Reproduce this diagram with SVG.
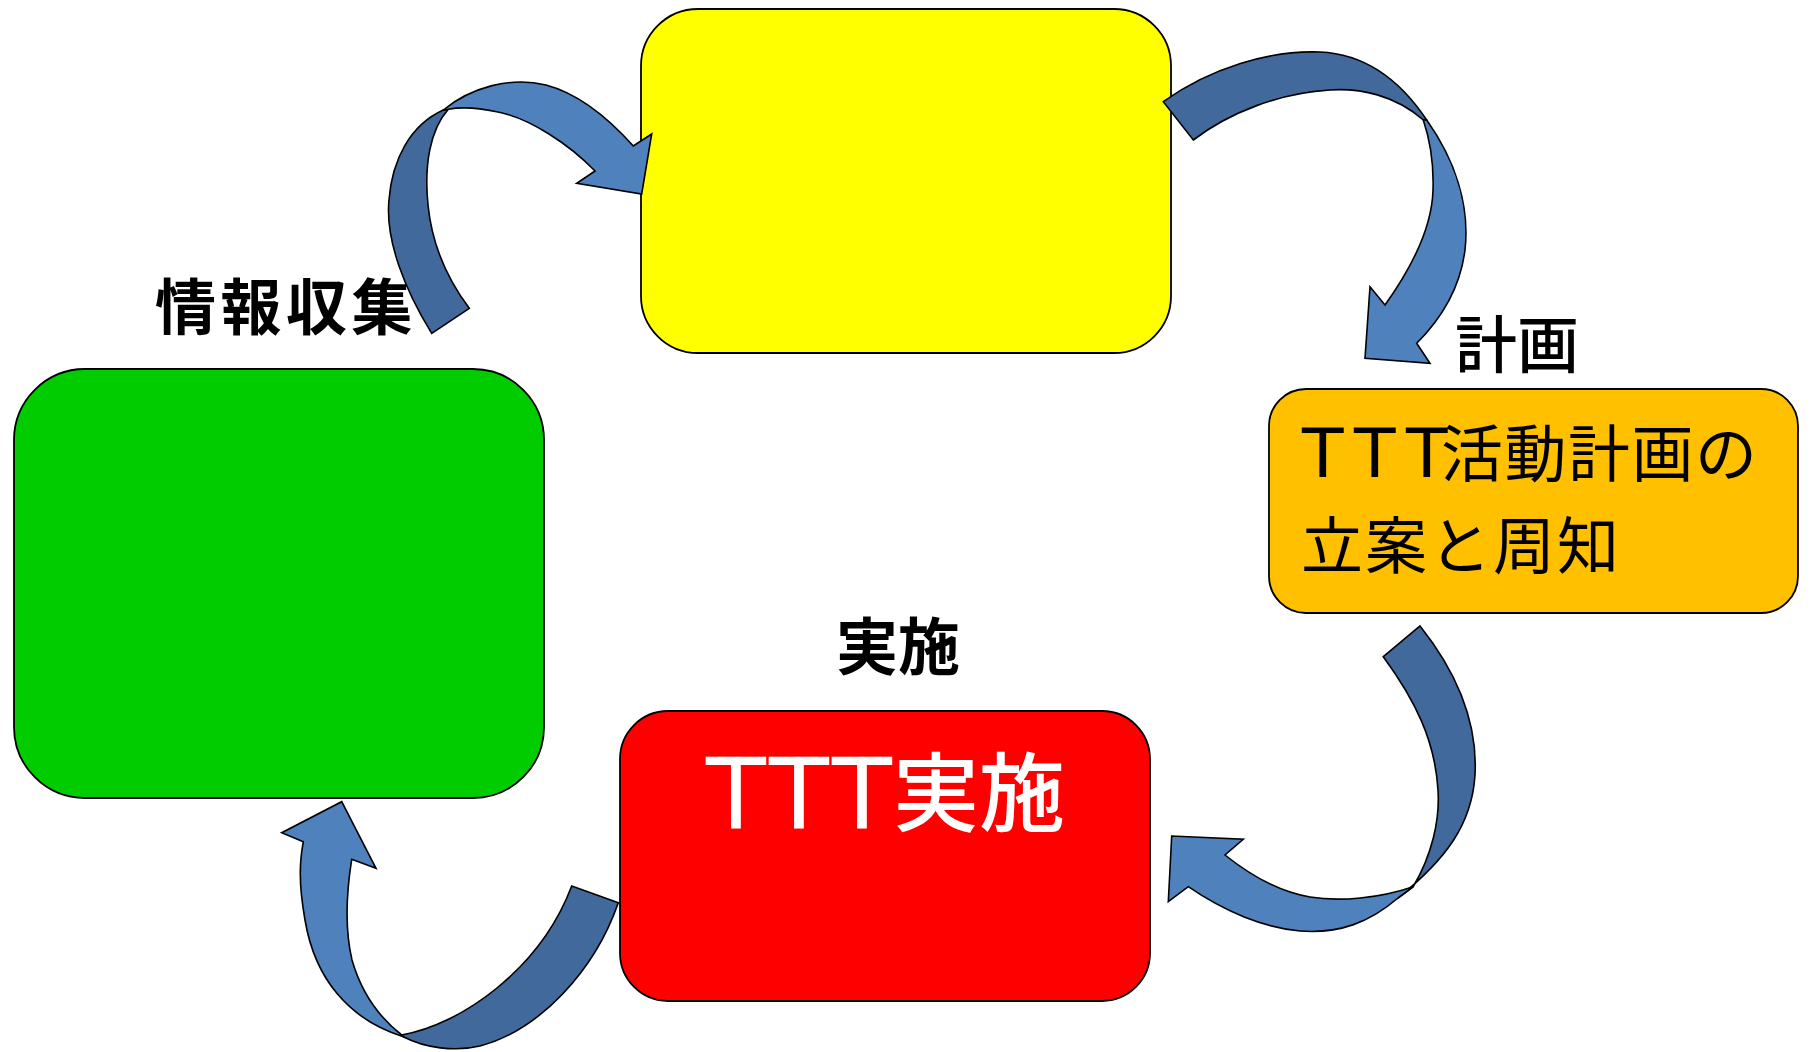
<svg xmlns="http://www.w3.org/2000/svg" width="1810" height="1052" viewBox="0 0 1810 1052">
<style>
.box{stroke:#000;stroke-width:1.8}
.lbl{font-family:"Noto Sans CJK JP","Noto Sans CJK SC",sans-serif;fill:#000}
.lat{font-family:"DejaVu Sans","Noto Sans CJK JP",sans-serif}
.cjk{font-family:"Noto Sans CJK JP","Noto Sans CJK SC",sans-serif}
.dark{fill:#41699B;stroke:#000;stroke-width:1.6;stroke-linejoin:miter}
.light{fill:#4F81BD;stroke:#000;stroke-width:1.6;stroke-linejoin:miter}
</style>
<rect width="1810" height="1052" fill="#fff"/>
<g id="node-yellow">
<rect class="box" x="641" y="9" width="530" height="344" rx="57" fill="#FFFF00"/>
</g>
<g id="node-green">
<rect class="box" x="14" y="369" width="530" height="429" rx="71" fill="#00CC00"/>
<text class="lbl" x="155" y="330" font-size="61" font-weight="700" letter-spacing="4.5">情報収集</text>
</g>
<g id="node-orange">
<rect class="box" x="1269" y="389" width="529" height="224" rx="37" fill="#FFC000"/>
<text class="lbl" x="1517" y="368" font-size="62" font-weight="500" text-anchor="middle">計画</text>
<text class="lbl" y="477"><tspan class="lat" font-size="68" x="1302 1354 1406">TTT</tspan><tspan class="cjk" font-size="62" x="1441" letter-spacing="1.5">活動計画の</tspan></text>
<text class="lbl" x="1301" y="569" font-size="62" letter-spacing="2">立案と周知</text>
</g>
<g id="node-red">
<rect class="box" x="620" y="711" width="530" height="290" rx="48" fill="#FF0000"/>
<text class="lbl" x="898" y="670" font-size="62" font-weight="700" text-anchor="middle">実施</text>
<text class="lbl" fill="#fff" style="fill:#fff"><tspan class="lat" font-size="98" y="828" x="706 769 832">TTT</tspan><tspan class="cjk" font-size="86" font-weight="500" y="825" x="893">実施</tspan></text>
</g>
<g id="connectors">
<path class="dark" d="M431.7,333.3 C405,290 385,240 389,200 C392,160 410,125 443.3,110 L448.3,109.3 C430,130 424,165 428,205 C432,245 448,280 469.3,308.3 Z"/>
<path class="light" d="M443.3,110 C470,88 510,76 546,85 C580,94 610,120 633.3,146 L651.7,134 L641.7,194 L576.7,183.3 L595,171 C570,145 530,118 496.7,111.7 C475,107 460,107 448.3,109.3 Z"/>
<path class="dark" d="M1163.3,101.7 C1210,68 1270,50 1320,52 C1365,54 1400,80 1426.7,120 L1423.3,120 C1395,95 1360,88 1330,90 C1280,93 1230,112 1193.3,140 Z"/>
<path class="light" d="M1426.7,120 C1455,160 1470,205 1465,250 C1460,290 1440,320 1416.7,343.3 L1430,363.3 L1365,358.3 L1370,286.7 L1385,305 C1410,270 1432,230 1433,190 C1434,160 1430,140 1423.3,120 Z"/>
<path class="dark" d="M1383.3,656.7 L1420,626 C1455,670 1478,720 1475,775 C1472,825 1445,860 1398,898 L1413,887 C1432,855 1440,820 1438,790 C1435,740 1415,700 1383.3,656.7 Z"/>
<path class="light" d="M1413.3,886.7 C1380,898 1340,902 1310,897 C1280,892 1250,875 1225,855 L1243.3,839.3 L1171.7,836 L1168.3,901.7 L1188.3,886.7 C1225,912 1265,928 1300,931 C1340,934 1370,922 1398,898 Z"/>
<path class="dark" d="M571.7,886 L618.3,902.7 C595,970 540,1030 480,1046 C455,1052 425,1048 403.3,1036.7 L401.7,1035 C460,1025 540,970 571.7,886 Z"/>
<path class="light" d="M403.3,1036.7 C350,1020 315,980 305,920 C298,880 300,860 303.3,841.7 L281.7,832.7 L341.7,801.7 L376,868.3 L351.7,859.3 C346,895 345,930 352,960 C362,995 380,1018 401.7,1035 Z"/>
</g>
</svg>
